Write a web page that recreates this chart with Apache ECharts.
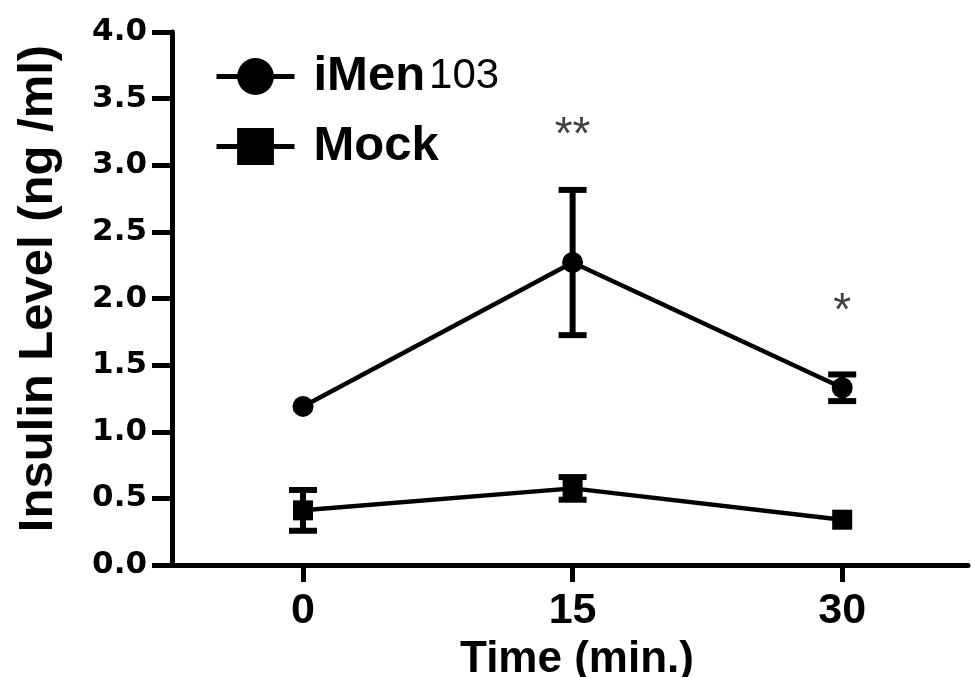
<!DOCTYPE html>
<html><head><meta charset="utf-8">
<script src="https://cdn.jsdelivr.net/npm/echarts@6/dist/echarts.min.js"></script>
<style>html,body{margin:0;padding:0;background:#fff}#c{width:971px;height:677px}</style>
</head><body><div id="c"></div>
<script>
// ---- data ----
const timePoints = [0, 15, 30];
const xTickValues = [0, 15, 30];
const seriesNames = ['iMen103', 'Mock'];
const iMenMean = [1.19, 2.27, 1.33];
const iMenErr  = [0, 0.545, 0.10];
const mockMean = [0.41, 0.575, 0.34];
const mockErr  = [0.153, 0.085, 0];
const sigX = [15, 30];
const sigY = [3.29, 1.97];
const sigText = ['**', '*'];

// ---- chart ----
const chart = echarts.init(document.getElementById('c'), null, {renderer: 'canvas'});
const AX = 'Liberation Sans';

function errRender(params, api) {
  const x = api.value(0), lo = api.value(1), hi = api.value(2);
  if (!(hi - lo > 0)) return null;
  const top = api.coord([x, hi]), bot = api.coord([x, lo]);
  const hw = 14;
  const style = {stroke: '#000', lineWidth: 6, fill: null};
  return {type: 'group', children: [
    {type: 'line', shape: {x1: top[0], y1: top[1], x2: bot[0], y2: bot[1]}, style: style},
    {type: 'line', shape: {x1: top[0] - hw, y1: top[1], x2: top[0] + hw, y2: top[1]}, style: style},
    {type: 'line', shape: {x1: bot[0] - hw, y1: bot[1], x2: bot[0] + hw, y2: bot[1]}, style: style}
  ]};
}
function errData(mean, err) {
  return timePoints.map((t, i) => [t, mean[i] - err[i], mean[i] + err[i]]);
}
function lineData(mean) { return timePoints.map((t, i) => [t, mean[i]]); }

const option = {
  animation: false,
  backgroundColor: '#fff',
  grid: {left: 172, right: 3, top: 32, bottom: 112, containLabel: false, outerBoundsMode: 'none'},
  legend: {
    data: seriesNames,
    orient: 'vertical',
    left: 209, top: 47,
    itemWidth: 78, itemHeight: 46, itemGap: 21,
    selectedMode: false,
    lineStyle: {width: 5, color: '#000'},
    formatter: function (name) {
      const m = name.match(/^(\D+)(\d*)$/);
      return m && m[2] ? '{b|' + m[1] + '}{r|' + m[2] + '}' : '{b|' + name + '}';
    },
    textStyle: {
      padding: [0, 0, 0, 14],
      rich: {
        b: {fontFamily: AX, fontWeight: 'bold', fontSize: 49, lineHeight: 46, color: '#000'},
        r: {fontFamily: AX, fontWeight: 'normal', fontSize: 42, lineHeight: 46, color: '#000', padding: [0, 0, 0, 4]}
      }
    }
  },
  xAxis: {
    type: 'value', min: -7.29, max: 37,
    name: 'Time (min.)', nameLocation: 'middle', nameGap: 58,
    nameTextStyle: {fontFamily: AX, fontWeight: 'bold', fontSize: 44, color: '#000', padding: [0, 0, 0, 14]},
    splitLine: {show: false},
    axisLine: {onZero: false, lineStyle: {color: '#000', width: 5}},
    axisTick: {show: true, length: 17, lineStyle: {color: '#000', width: 5}, customValues: xTickValues},
    axisLabel: {customValues: xTickValues, margin: 25, fontFamily: AX, fontWeight: 'bold', fontSize: 43, color: '#000'}
  },
  yAxis: {
    type: 'value', min: 0, max: 4, interval: 0.5,
    name: 'Insulin Level (ng /ml)', nameLocation: 'middle', nameGap: 109,
    nameTextStyle: {fontFamily: AX, fontWeight: 'bold', fontSize: 49, color: '#000', padding: [0, 0, 0, 20]},
    splitLine: {show: false},
    axisLine: {show: true, onZero: false, lineStyle: {color: '#000', width: 5}},
    axisTick: {show: true, length: 20, lineStyle: {color: '#000', width: 5}},
    axisLabel: {margin: 25, fontFamily: 'DejaVu Sans', fontWeight: 'bold', fontSize: 31, color: '#000',
      formatter: v => v.toFixed(1)}
  },
  series: [
    {name: 'iMen103 SEM', type: 'custom', renderItem: errRender, data: errData(iMenMean, iMenErr),
      encode: {x: 0, y: [1, 2]}, silent: true, z: 2},
    {name: 'Mock SEM', type: 'custom', renderItem: errRender, data: errData(mockMean, mockErr),
      encode: {x: 0, y: [1, 2]}, silent: true, z: 2},
    {name: 'iMen103', type: 'line', data: lineData(iMenMean), symbol: 'circle', symbolSize: 21,
      itemStyle: {color: '#000'}, lineStyle: {color: '#000', width: 4.5}, z: 3},
    {name: 'Mock', type: 'line', data: lineData(mockMean), symbol: 'rect', symbolSize: 20,
      itemStyle: {color: '#000'}, lineStyle: {color: '#000', width: 4.5}, z: 3},
    {name: 'significance', type: 'scatter', symbolSize: 0, silent: true,
      data: sigX.map((x, i) => [x, sigY[i], sigText[i]]),
      label: {show: true, position: 'inside', formatter: p => p.value[2], offset: [0, 10],
        fontFamily: AX, fontWeight: 'normal', fontSize: 46, color: '#111'}}
  ]
};
chart.setOption(option);
</script>
</body></html>
